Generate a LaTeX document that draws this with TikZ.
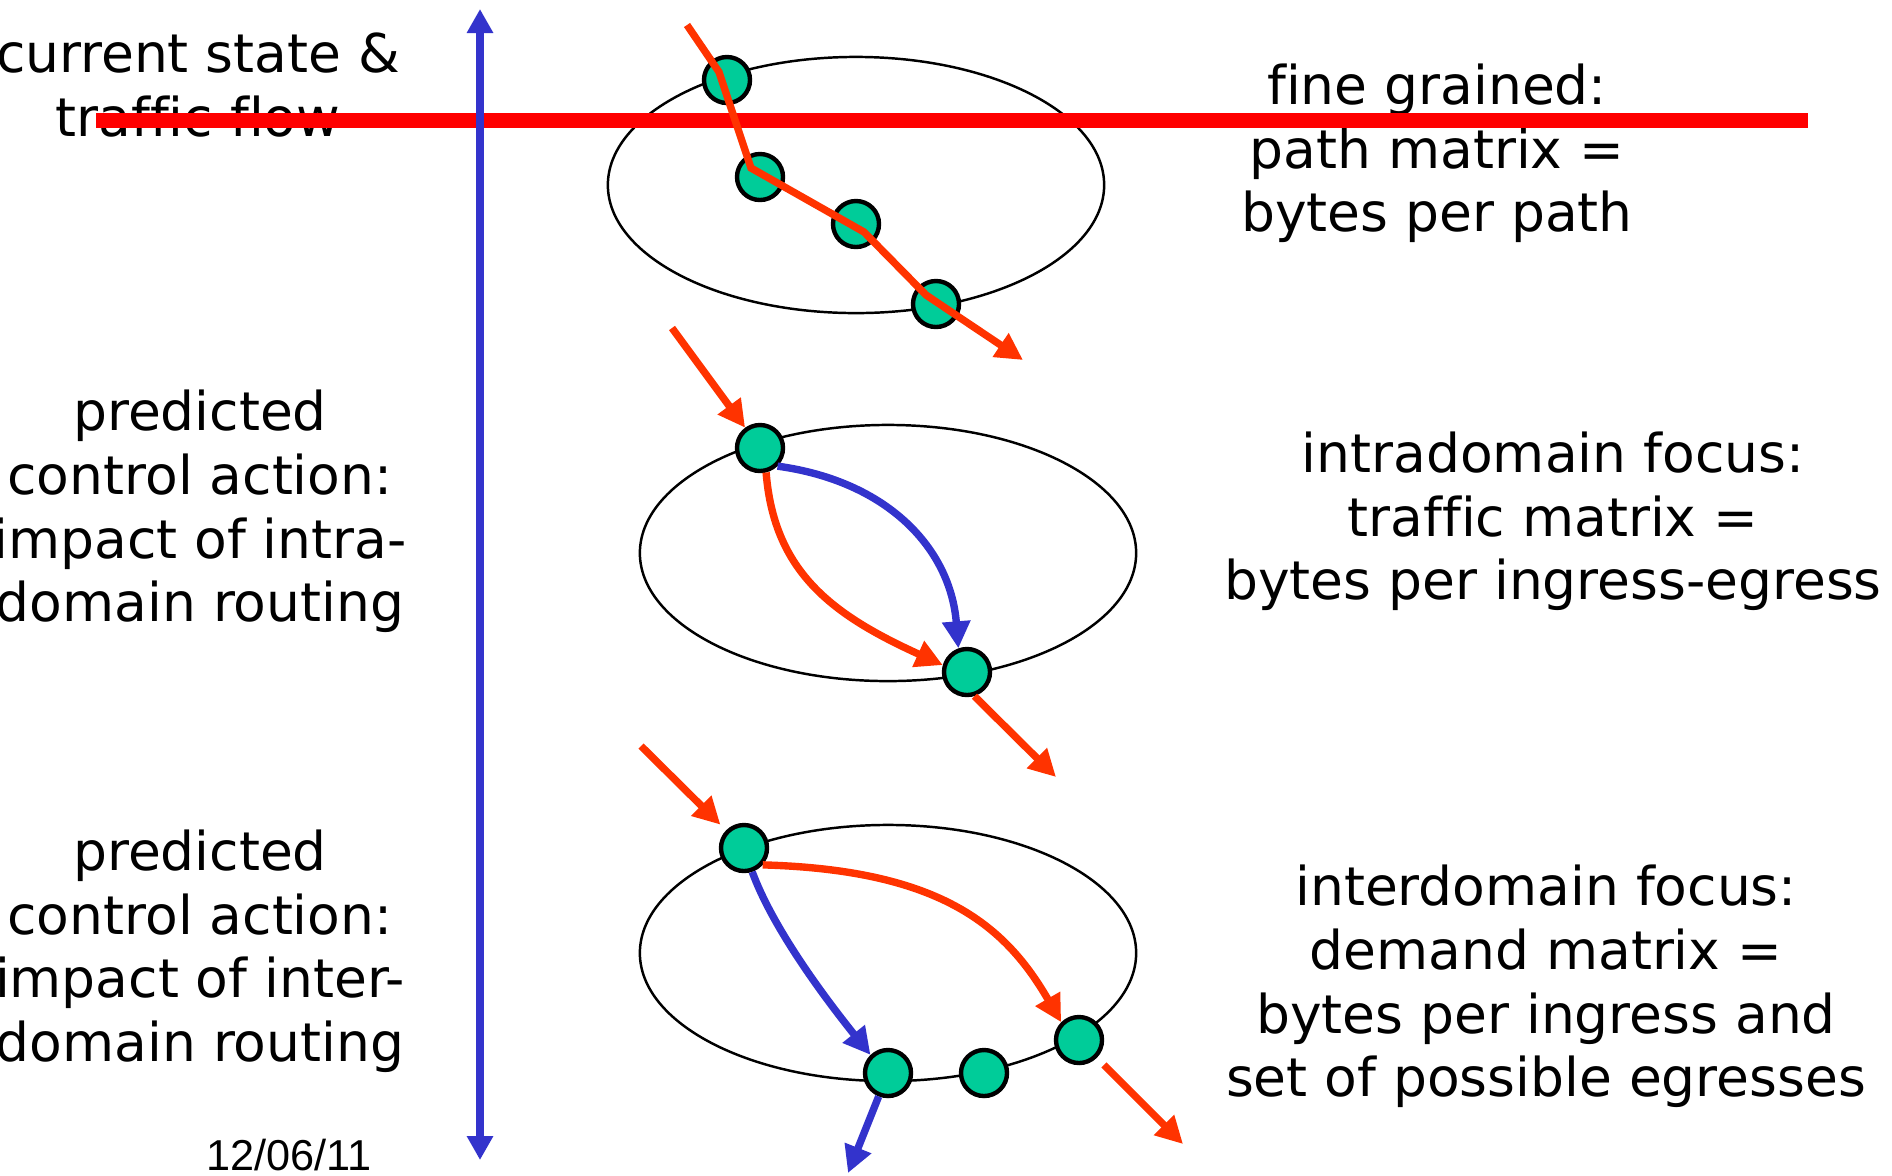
\documentclass[tikz,border=0pt]{standalone}
\usepackage{fontspec}
\setmainfont{DejaVu Sans}[Ligatures=NoCommon]
\newfontfamily\datefont{Liberation Sans}
\usepackage{xcolor}
\usetikzlibrary{arrows.meta}
\definecolor{flowred}{HTML}{FF3300}
\definecolor{routeblue}{HTML}{3333CC}
\definecolor{routergreen}{HTML}{00CC99}

\begin{document}
\begin{tikzpicture}[x=0.01cm,y=-0.01cm,
    lbl/.style={align=center,inner sep=0pt,font=\fontsize{15.2}{18.07}\selectfont},
    net/.style={draw=black,line width=0.7pt},
    router/.style={circle,draw=black,fill=routergreen,line width=1.25pt,minimum size=0.46cm,inner sep=0pt},
    flow/.style={draw=flowred,line width=2.1pt,-{Triangle[length=0.27cm,width=0.27cm]}},
    route/.style={draw=routeblue,line width=2.1pt,-{Triangle[length=0.27cm,width=0.27cm]}}]
    \useasboundingbox (0,0) rectangle (1892,1175);

    \node[lbl] (state) at (198,85) {current state \&\\traffic flow};
    \node[lbl] (intra) at (200,511.5) {predicted\\control action:\\impact of intra-\\domain routing};
    \node[lbl] (inter) at (200,951) {predicted\\control action:\\impact of inter-\\domain routing};
    \node[lbl] (fine) at (1437,153.5) {fine grained:\\path matrix =\\bytes per path};
    \node[lbl] (tmat) at (1553,521.5) {intradomain focus:\\traffic matrix =\\bytes per ingress-egress};
    \node[lbl] (dmat) at (1546,986.5) {interdomain focus:\\demand matrix =\\bytes per ingress and\\set of possible egresses};
    \node[anchor=base,inner sep=0pt,font=\datefont\fontsize{12.3}{14}\selectfont] (date) at (289,1170) {12/06/11};

    \draw[net] (856,185) ellipse [x radius=2.48cm, y radius=1.28cm];
    \draw[net] (888,553) ellipse [x radius=2.48cm, y radius=1.28cm];
    \draw[net] (888,953) ellipse [x radius=2.48cm, y radius=1.28cm];

    \coordinate (barL) at (96,120.5);
    \coordinate (barR) at (1808,120.5);
    \draw[draw=red,line width=4.3pt] (barL) -- (barR);
    \coordinate (axisT) at (480,9);
    \coordinate (axisB) at (480,1160);
    \draw[draw=routeblue,line width=2.3pt,{Triangle[length=0.24cm,width=0.25cm]}-{Triangle[length=0.24cm,width=0.25cm]}] (axisT) -- (axisB);

    \node[router] (a1) at (727,80) {};
    \node[router] (a2) at (760,177) {};
    \node[router] (a3) at (856,224) {};
    \node[router] (a4) at (936,304) {};
    \node[router] (b1) at (760,448) {};
    \node[router] (b2) at (967,672) {};
    \node[router] (c1) at (744,848) {};
    \node[router] (c2) at (888,1073) {};
    \node[router] (c3) at (984,1073) {};
    \node[router] (c4) at (1079,1040) {};

    \coordinate (s1) at (687,25);
    \coordinate (t1) at (1023,360);
    \coordinate (s2) at (672,328);
    \coordinate (t2) at (1056,777);
    \coordinate (s3) at (641,746);
    \coordinate (t3b) at (848,1173);
    \coordinate (t3r) at (1183,1144);

    \draw[flow] (s1) -- ([shift={(-8,-8)}]a1.center) -- ([shift={(-9,-9)}]a2.center) -- ([shift={(8,8)}]a3.center) -- ([shift={(-10,-9)}]a4.center) -- (t1);
    \draw[flow] (s2) -- (b1);
    \draw[flow] (b1.-76) .. controls +(8,100) and +(-110,-50) .. (b2.164);
    \draw[route] (b1.-46) .. controls +(110,15) and +(-8,-100) .. (b2.110);
    \draw[flow] (b2.-73) -- (t2);
    \draw[flow,shorten >=0.08cm] (s3) -- (c1);
    \draw[flow] (c1.-42) .. controls +(180,5) and +(-55,-95) .. (c4.135);
    \draw[route] (c1.-71) .. controls +(22,60) and +(-40,-50) .. (c2.134);
    \draw[route] (c2) -- (t3b);
    \draw[flow,shorten <=0.1cm] (c4) -- (t3r);
\end{tikzpicture}
\end{document}
